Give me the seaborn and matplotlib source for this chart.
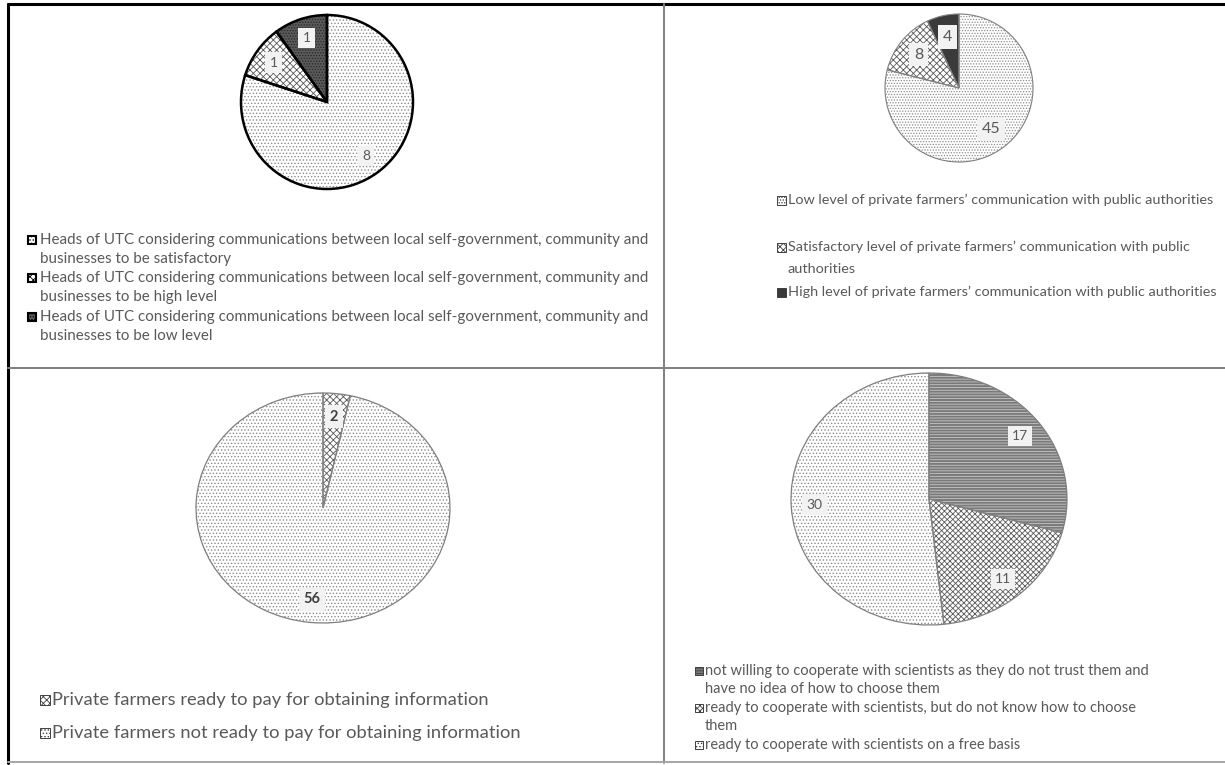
import matplotlib
matplotlib.use('Agg')
import matplotlib.pyplot as plt
from matplotlib.patches import Rectangle
import seaborn as sns

W, H = 1225, 765

# data
p1_labels = ['Heads of UTC considering communications between local self-government, community and\nbusinesses to be satisfactory',
             'Heads of UTC considering communications between local self-government, community and\nbusinesses to be high level',
             'Heads of UTC considering communications between local self-government, community and\nbusinesses to be low level']
p1_values = [8, 1, 1]

p2_labels = ['Low level of private farmers\u2019 communication with public authorities',
             'Satisfactory level of private farmers\u2019 communication with public\nauthorities',
             'High level of private farmers\u2019 communication with public authorities']
p2_values = [45, 8, 4]

p3_labels = ['Private farmers ready to pay for obtaining information',
             'Private farmers not ready to pay for obtaining information']
p3_values = [2, 56]

p4_labels = ['not willing to cooperate with scientists as they do not trust them and\nhave no idea of how to choose them',
             'ready to cooperate with scientists, but do not know how to choose\nthem',
             'ready to cooperate with scientists on a free basis']
p4_values = [17, 11, 30]

sns.set_theme(style='white')
plt.rcParams['font.family'] = ['Lato', 'DejaVu Sans']
plt.rcParams['hatch.linewidth'] = 0.6

fig = plt.figure(figsize=(W / 100, H / 100), dpi=100)

# pixel-coordinate canvas for frame lines and legends
base = fig.add_axes([0, 0, 1, 1])
base.set_xlim(0, W)
base.set_ylim(H, 0)
base.axis('off')

base.plot([8, W], [4, 4], color='black', lw=2.2)
base.plot([8, 8], [4, 763], color='black', lw=2.2)
base.plot([664, 664], [4, 763], color='#7f7f7f', lw=1.4)
base.plot([8, W], [368, 368], color='#7f7f7f', lw=1.4)
base.plot([8, W], [762, 762], color='#a6a6a6', lw=1.4)


def draw_pie(cx, cy, rx, ry, values, faces, hatches, hcolors, edge, lw, dist, fs,
             weight='normal', tcolor='#595959'):
    ax = fig.add_axes([(cx - rx) / W, 1 - (cy + ry) / H, 2 * rx / W, 2 * ry / H])
    total = sum(values)
    wedges, _, autotexts = ax.pie(values, colors=faces, startangle=90, counterclock=False,
                                  autopct=lambda p: f'{p * total / 100:.0f}', pctdistance=dist,
                                  wedgeprops=dict(linewidth=0),
                                  textprops=dict(fontsize=fs, color=tcolor, fontweight=weight))
    for w, h, c in zip(wedges, hatches, hcolors):
        w.set_hatch(h)
        w.set_edgecolor(c)
    ax.pie(values, startangle=90, counterclock=False,
           wedgeprops=dict(fill=False, edgecolor=edge, linewidth=lw))
    for t in autotexts:
        t.set_bbox(dict(boxstyle='square,pad=0.3', fc='#f2f2f2', ec='none'))
    ax.set_aspect('auto')
    ax.set_xlim(-1, 1)
    ax.set_ylim(-1, 1)
    return wedges


def legend_block(x_mark, x_text, ys, gap, labels, wedges, size, edge, mlw, ref, target):
    texts = []
    for y, lab, w in zip(ys, labels, wedges):
        base.add_patch(Rectangle((x_mark - size / 2, y - size / 2), size, size,
                                 facecolor=w.get_facecolor(), hatch=w.get_hatch(),
                                 edgecolor=edge, lw=mlw))
        for i, line in enumerate(lab.split('\n')):
            texts.append(base.text(x_text, y + i * gap, line, fontsize=10,
                                   color='#595959', va='center', ha='left'))
    # scale font so the reference line matches its width in the picture
    r = fig.canvas.get_renderer()
    wpx = texts[ref].get_window_extent(r).width
    for t in texts:
        t.set_fontsize(10 * target / wpx)


w1 = draw_pie(327, 102, 86, 87, p1_values,
              ['white', 'white', '#5a5a5a'], ['.....', 'xxxxx', '......'],
              ['#8c8c8c', '#595959', '#262626'], 'black', 1.8, 0.77, 10)
w2 = draw_pie(959, 88, 74, 74, p2_values,
              ['white', 'white', '#3a3a3a'], ['......', 'xxxxx', ''],
              ['#8c8c8c', '#595959', '#3a3a3a'], '#7f7f7f', 0.8, 0.71, 11.5)
w3 = draw_pie(323, 508, 127, 115, p3_values,
              ['white', 'white'], ['xxxxx', '.....'],
              ['#595959', '#8c8c8c'], '#7f7f7f', 0.9, 0.8, 10.5,
              weight='bold', tcolor='#404040')
w4 = draw_pie(929, 499, 138, 126, p4_values,
              ['#7a7a7a', 'white', 'white'], ['------', 'xxxxxx', '.....'],
              ['#c8c8c8', '#5a5a5a', '#8c8c8c'], '#7f7f7f', 0.9, 0.83, 10)

legend_block(32, 40, [240, 278, 317], 19, p1_labels, w1, 8, 'black', 1.5, 0, 606)
legend_block(781, 788, [200, 247, 292], 22, p2_labels, w2, 9, '#404040', 0.7, 0, 427)
legend_block(45, 52, [700, 733], 0, p3_labels, w3, 10, '#404040', 0.7, 0, 438)
legend_block(699, 705, [671, 708, 745], 18, p4_labels, w4, 8, '#404040', 0.7, 0, 443)

fig.savefig('out.png', dpi=100)
